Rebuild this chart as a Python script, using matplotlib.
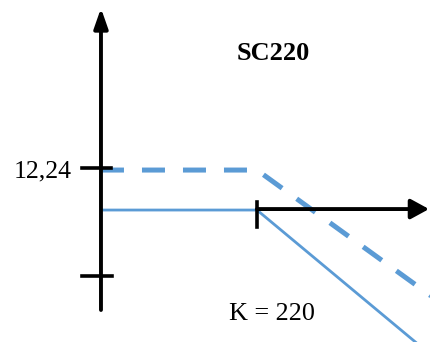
"""Short call payoff sketch (SC220) in the style of a hand drawn textbook figure."""
import matplotlib.pyplot as plt

# data
strike = 220
premium = 12.24
premium_label = '12,24'
lower_tick = -20.2

payoff_s = [0, 220, 450]          # stock price, expiry payoff (solid)
payoff_v = [0, 0, -41.6]
profit_s = [0, 220, 470]          # stock price, profit incl. premium (dashed)
profit_v = [12.24, 12.24, -27.0]

blue = '#5B9BD5'
serif = ['Liberation Serif', 'DejaVu Serif']

fig = plt.figure(figsize=(4.3, 3.42), dpi=100)
ax = fig.add_axes([0, 0, 1, 1])
ax.set_xlim(-142.4, 464.0)
ax.set_ylim(-40.4, 64.3)
ax.axis('off')

# payoff lines
ax.plot(payoff_s, payoff_v, color=blue, lw=2.0, solid_capstyle='butt', zorder=2)
ax.plot(profit_s, profit_v, color=blue, lw=3.6, dashes=(4.6, 3.6),
        dash_capstyle='butt', zorder=2)

# axes with arrows
ax.annotate('', xy=(0, 61.8), xytext=(0, -30.6),
            arrowprops=dict(arrowstyle='-|>,head_length=1.2,head_width=0.42',
                            mutation_scale=10, color='black', lw=2.8,
                            shrinkA=0, shrinkB=0), zorder=3)
ax.annotate('', xy=(462.6, 0.3), xytext=(strike, 0.3),
            arrowprops=dict(arrowstyle='-|>,head_length=1.1,head_width=0.6',
                            mutation_scale=10, color='black', lw=2.8,
                            shrinkA=0, shrinkB=0), zorder=3)

# tick marks
ax.plot([-26.8, 14.1], [premium + 0.6, premium + 0.6], color='black', lw=2.6, zorder=3)
ax.plot([-26.8, 15.5], [lower_tick, lower_tick], color='black', lw=2.6, zorder=3)
ax.plot([strike, strike], [2.6, -5.2], color='black', lw=2.6, zorder=3)

# labels
fig.text(72 / 430, 1 - 177 / 342, premium_label, ha='right', va='baseline',
         fontsize=18.5, family=serif)
fig.text(273 / 430, 1 - 60 / 342, 'SC220', ha='center', va='baseline',
         fontsize=19, fontweight='bold', family=serif)
fig.text(229 / 430, 1 - 320 / 342, f'K = {strike}', ha='left', va='baseline',
         fontsize=18.8, family=serif)

fig.savefig('out.png', dpi=100, facecolor='white')
